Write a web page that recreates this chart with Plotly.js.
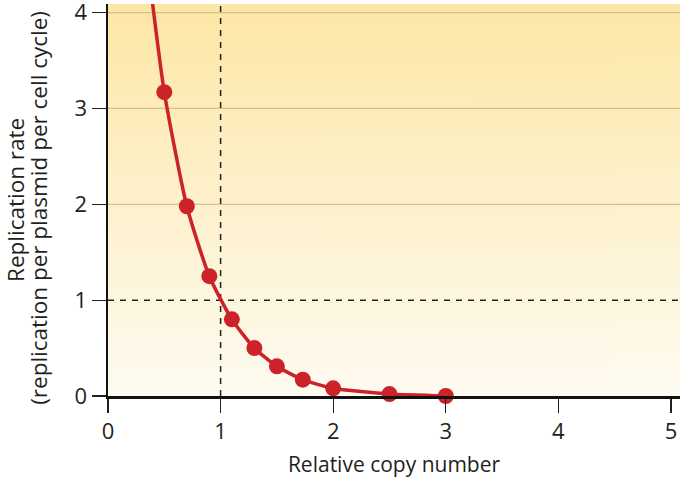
<!DOCTYPE html>
<html>
<head>
<meta charset="utf-8">
<script src="https://cdn.plot.ly/plotly-3.0.1.min.js"></script>
<style>
  html, body { margin: 0; padding: 0; background: #fff; }
  #chart { width: 680px; height: 484px; }
</style>
</head>
<body>
<div id="chart"></div>
<script>
// measured points
const copyNumber = [0.5, 0.7, 0.9, 1.1, 1.3, 1.5, 1.73, 2.0, 2.5, 3.0];
const replicationRate = [3.17, 1.98, 1.25, 0.80, 0.50, 0.31, 0.17, 0.08, 0.02, 0.0];

// the curve runs on above the top of the axis
const curveStartX = [0.39];
const curveStartY = [4.15];

const xTicks = [0, 1, 2, 3, 4, 5];
const yTicks = [0, 1, 2, 3, 4];
const gridValues = [2, 3, 4];
const referenceX = 1;
const referenceY = 1;

const yTitleLines = ['Replication rate', '(replication per plasmid per cell cycle)'];

const red = '#cc2229';
const ink = '#231f20';
const font = 'Open Sans, Lato, sans-serif';

const marginL = 108;
const plotW = 680 - marginL;

// background gradient, yellow at top fading to cream
function gradientImage() {
    const c = document.createElement('canvas');
    c.width = 4;
    c.height = 256;
    const ctx = c.getContext('2d');
    const g = ctx.createLinearGradient(0, 0, 0, 256);
    g.addColorStop(0, '#fde7a6');
    g.addColorStop(0.5, '#fdf1cc');
    g.addColorStop(1, '#fefbf1');
    ctx.fillStyle = g;
    ctx.fillRect(0, 0, 4, 256);
    return c.toDataURL();
}

const curve = {
    x: curveStartX.concat(copyNumber),
    y: curveStartY.concat(replicationRate),
    mode: 'lines',
    type: 'scatter',
    line: { color: red, width: 3.5, shape: 'spline', smoothing: 0.6 },
    hoverinfo: 'skip'
};

const points = {
    x: copyNumber,
    y: replicationRate,
    mode: 'markers',
    type: 'scatter',
    marker: { color: red, size: 16 },
    cliponaxis: false
};

const shapes = gridValues.map(v => ({
    type: 'line', xref: 'paper', x0: 0, x1: 1, yref: 'y', y0: v, y1: v,
    line: { color: '#dcbf8e', width: 1.2 }, layer: 'below'
}));
shapes.push({
    type: 'line', xref: 'x', x0: referenceX, x1: referenceX, yref: 'paper', y0: 0, y1: 1,
    line: { color: '#222', width: 1.5, dash: '6px,6px' }, layer: 'below'
});
shapes.push({
    type: 'line', xref: 'paper', x0: 0, x1: 1, yref: 'y', y0: referenceY, y1: referenceY,
    line: { color: '#222', width: 1.5, dash: '6px,6px' }, layer: 'below'
});

// y title as two rotated lines, spaced like the original
const titleX = [15, 39];
const annotations = yTitleLines.map((t, i) => ({
    text: t, textangle: -90, showarrow: false,
    xref: 'paper', yref: 'paper',
    x: (titleX[i] - marginL) / plotW, y: 0.5 + (i === 1 ? -0.02 : 0),
    xanchor: 'center', yanchor: 'middle',
    font: { family: font, size: 22.5, color: ink }
}));

const layout = {
    width: 680,
    height: 484,
    margin: { l: marginL, r: 0, t: 4, b: 88 },
    showlegend: false,
    paper_bgcolor: '#ffffff',
    plot_bgcolor: 'rgba(0,0,0,0)',
    font: { family: font, size: 20, color: ink },
    images: [{
        source: gradientImage(),
        xref: 'paper', yref: 'paper', x: 0, y: 1, sizex: 1, sizey: 1,
        sizing: 'stretch', xanchor: 'left', yanchor: 'top', layer: 'below'
    }],
    xaxis: {
        range: [0, 5.08],
        tickvals: xTicks,
        tickfont: { family: font, size: 22, color: ink },
        ticks: 'outside', ticklen: 14, tickwidth: 1.2, tickcolor: ink,
        ticklabeloverflow: 'allow',
        showline: true, linecolor: '#111', linewidth: 2.5,
        showgrid: false, zeroline: false,
        title: { text: 'Relative copy number', standoff: 14, font: { family: font, size: 21, color: ink } }
    },
    yaxis: {
        range: [0, 4.09],
        tickvals: yTicks,
        tickfont: { family: font, size: 22, color: ink },
        ticks: 'outside', ticklen: 14, tickwidth: 1.2, tickcolor: ink,
        ticklabeloverflow: 'allow',
        showline: true, linecolor: '#111', linewidth: 2.5,
        showgrid: false, zeroline: false
    },
    shapes: shapes,
    annotations: annotations
};

Plotly.newPlot('chart', [curve, points], layout, { displayModeBar: false, staticPlot: true });
</script>
</body>
</html>
